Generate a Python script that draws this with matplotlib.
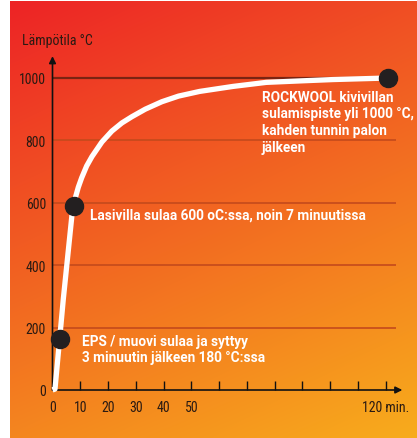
import numpy as np
import matplotlib
matplotlib.use('Agg')
import matplotlib.pyplot as plt
from matplotlib import font_manager as fm

# ---- data ----
time_min = [0, 0.9, 3.9, 7.0, 8.1, 9.3, 10.5, 12.3, 14.2, 17.8, 21.4, 25, 28.6, 33.4,
            39.4, 45.4, 53, 65, 77, 90, 101, 117, 121]
temp_c = [0, 3, 292, 560, 612, 650, 680, 718, 748, 795, 830, 856, 876, 900,
          924, 942, 957, 973, 986, 991, 995, 999, 1000]
event_time = [2.7, 7.9, 121]
event_temp = [163, 591, 1000]
ytick_vals = [0, 200, 400, 600, 800, 1000]
xtick_vals = list(range(0, 121, 10))
xtick_labels = ['0', '10', '20', '30', '40', '50'] + [''] * 7
y_label = 'Lämpötila °C'
x_end_label = '120 min.'
rockwool_lines = ['ROCKWOOL kivivillan', 'sulamispiste yli 1000 °C,',
                  'kahden tunnin palon', 'jälkeen']
lasivilla_lines = ['Lasivilla sulaa 600 oC:ssa, noin 7 minuutissa']
eps_lines = ['EPS / muovi sulaa ja syttyy', '3 minuutin jälkeen 180 °C:ssa']

installed = {f.name for f in fm.fontManager.ttflist}
cands = ['Roboto Condensed', 'DejaVu Sans Condensed', 'Liberation Sans Narrow',
         'Open Sans Condensed', 'Roboto']
FONT = [f for f in cands if f in installed] + ['DejaVu Sans']
plt.rcParams['font.family'] = FONT
condensed = FONT[0] in ('Roboto Condensed', 'DejaVu Sans Condensed',
                        'Liberation Sans Narrow', 'Open Sans Condensed')
rsz = 10 if condensed else 9.2
BOLD_FONT = ['Roboto', 'DejaVu Sans']
bsz = 9.8

W, H = 417, 439
fig = plt.figure(figsize=(W / 100, H / 100), dpi=100)
fig.patch.set_facecolor('white')

# background gradient
bg = fig.add_axes([0, 0, 1, 1])
bg.set_xlim(0, W)
bg.set_ylim(H, 0)
bg.axis('off')
nx, ny = 200, 200
u = np.linspace(0, 1, nx)[None, :, None]
v = np.linspace(0, 1, ny)[:, None, None]
def c(h):
    h = h.lstrip('#')
    return np.array([int(h[i:i + 2], 16) / 255 for i in (0, 2, 4)])
TL, TR, BL, BR = c('#ED2326'), c('#F04E24'), c('#F4861F'), c('#F8AC1C')
img = (1 - u) * (1 - v) * TL + u * (1 - v) * TR + (1 - u) * v * BL + u * v * BR
bg.imshow(img, extent=(10, W, H, 2.5), origin='upper', aspect='auto',
          interpolation='bilinear')

# main axes
x0, x120 = 52.5, 385.7
y0, y1000 = 391, 79
ax = fig.add_axes([x0 / W, (H - y0) / H, (x120 - x0) / W, (y0 - y1000) / H])
ax.set_xlim(0, 120)
ax.set_ylim(0, 1000)
ax.patch.set_alpha(0)
for s in ax.spines.values():
    s.set_visible(False)

ax.hlines(ytick_vals[1:-1], 0, 123.6, color='#C44A1C', lw=1.2, zorder=1,
          clip_on=False)
ax.hlines(ytick_vals[-1], 0, 121, color='#7A2412', lw=1.6, zorder=1,
          clip_on=False)

arrow = dict(arrowstyle='-|>', color='#111111', lw=1.2, mutation_scale=10,
             shrinkA=0, shrinkB=0)
ax.annotate('', xy=(0, 1070), xytext=(0, 0), arrowprops=arrow,
            annotation_clip=False, zorder=2)
ax.annotate('', xy=(126, 0), xytext=(0, 0), arrowprops=arrow,
            annotation_clip=False, zorder=2)

ax.plot(time_min, temp_c, color='white', lw=3.8, solid_capstyle='butt',
        solid_joinstyle='round', clip_on=False, zorder=3)
ax.plot(event_time, event_temp, 'o', ms=13, color='#231F20', clip_on=False,
        zorder=4)

dark = '#2A1A12'
ax.set_xticks(xtick_vals)
ax.set_xticklabels(xtick_labels)
ax.set_yticks(ytick_vals)
ax.set_yticklabels([str(v) for v in ytick_vals])
ax.tick_params(axis='x', direction='in', length=6.5, width=1, color='#111111',
               pad=7, labelsize=rsz, labelcolor=dark)
ax.tick_params(axis='y', length=0, pad=4.7, labelsize=rsz, labelcolor=dark)

def px2T(py):
    return (y0 - py) / ((y0 - y1000) / 1000)

def px2t(px):
    return (px - x0) / ((x120 - x0) / 120)

ax.text(px2t(362), px2T(412.3), x_end_label, fontsize=rsz, color=dark,
        va='baseline', ha='left', clip_on=False)
fig.text(22 / W, 1 - 45 / H, y_label, fontsize=rsz, color=dark, va='baseline')

def note(lines, px, pys):
    for line, py in zip(lines, pys):
        ax.text(px2t(px), px2T(py), line, fontsize=bsz, fontweight='bold',
                family=BOLD_FONT, color='white', va='baseline', ha='left',
                clip_on=False)

note(rockwool_lines, 261.7, [101.7, 118.3, 135, 151.7])
note(lasivilla_lines, 90, [219.3])
note(eps_lines, 81.7, [345.7, 362.3])

fig.savefig('out.png', dpi=100)
